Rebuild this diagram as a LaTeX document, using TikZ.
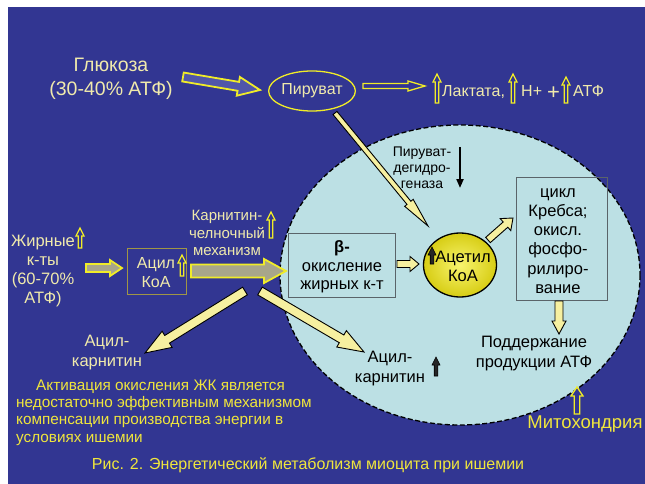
\documentclass[tikz,border=0pt]{standalone}
\usepackage{fontspec}
\setmainfont{Liberation Sans}
\usetikzlibrary{calc,arrows.meta,shapes.geometric}
\definecolor{bgblue}{RGB}{50,54,146}
\definecolor{mito}{RGB}{188,224,228}
\definecolor{cream}{RGB}{240,234,172}
\definecolor{yel}{RGB}{240,236,40}
\definecolor{paleyel}{RGB}{246,240,160}
\definecolor{greyfill}{RGB}{168,166,138}
\definecolor{txtyel}{RGB}{240,230,60}
\definecolor{boxgrey}{RGB}{90,100,105}
\definecolor{olivebox}{RGB}{160,150,70}
\definecolor{accin}{RGB}{248,244,110}
\definecolor{accout}{RGB}{215,205,20}
\definecolor{hollowfill}{RGB}{80,86,170}
\newcommand\myfs[2]{\fontsize{#1}{#2}\selectfont}
\newcommand\blkarrow[6]{%
  \coordinate (hb) at ($(#2)!#5!(#1)$);
  \draw[#6] ($(#1)!#3!90:(#2)$) -- ($(hb)!#3!90:(#2)$) -- ($(hb)!#4!90:(#2)$) -- (#2)
     -- ($(hb)!#4!-90:(#2)$) -- ($(hb)!#3!-90:(#2)$) -- ($(#1)!#3!-90:(#2)$) -- cycle;}
\newcommand\smallup[4]{%
  \coordinate (ua) at (#1,#2);
  \coordinate (ub) at (#1,#3);
  \blkarrow{ua}{ub}{1.8pt}{4pt}{8pt}{#4}}
\begin{document}
\begin{tikzpicture}[x=1pt,y=-1pt,
  hollowy/.style={draw=yel, line width=1.3pt, fill=bgblue, line join=miter},
  palearr/.style={draw=black, line width=0.9pt, fill=paleyel, line join=miter},
  greyarr/.style={draw=yel, line width=1.8pt, fill=greyfill, line join=miter},
  blackup/.style={draw=black, line width=0.6pt, fill=black!85},
  ctext/.style={text=cream, inner sep=0, align=center},
  btext/.style={text=black, inner sep=0, align=center}]
\useasboundingbox (0,0) rectangle (645,484);
\fill[white] (0,0) rectangle (645,484);
\fill[bgblue] (8,7) rectangle (645,484);
% mitochondrion
\draw[fill=mito, line width=1.3pt, dash pattern=on 5pt off 2.5pt] (460,275) ellipse [x radius=180, y radius=150];

% boxes
\node[draw=boxgrey, line width=0.8pt, minimum width=107pt, minimum height=64pt, inner sep=0] (betabox) at (341.5,265) {};
\node[draw=boxgrey, line width=0.8pt, minimum width=91pt, minimum height=123pt, inner sep=0] (krebsbox) at (561.5,238.5) {};
\node[draw=olivebox, line width=0.8pt, minimum width=59pt, minimum height=46pt, inner sep=0] (acilbox) at (156.5,271) {};
\node[ellipse, draw=black, line width=1.3pt, inner color=accin, outer color=accout, minimum width=73pt, minimum height=64pt, inner sep=0] (acetyl) at (460,265) {};
\node[ellipse, draw=yel, line width=1.3pt, minimum width=86pt, minimum height=40pt, inner sep=0, text=cream, font=\myfs{16}{19}] (piruvat) at (312,91) {Пируват};

% texts
\node[ctext, font=\myfs{19.5}{24}] (gluc) at (111,79) {Глюкоза\\(30-40\% АТФ)};
\node[text=cream, inner sep=0, anchor=base west, font=\myfs{16}{19}] (lakt) at (442,97) {Лактата,};
\node[text=cream, inner sep=0, anchor=base west, font=\myfs{16}{19}] (hplus) at (521,97) {Н+};
\node[text=cream, inner sep=0, anchor=base west, font=\myfs{22}{24}] (plus) at (547,100) {+};
\node[text=cream, inner sep=0, anchor=base west, font=\myfs{16}{19}] (atf) at (573,97) {АТФ};
\node[btext, font=\myfs{14}{16}] (pdh) at (422,168) {Пируват-\\дегидро-\\геназа};
\node[btext, font=\myfs{16.5}{19}] (actext) at (463,266) {Ацетил\\КоА};
\node[btext, font=\myfs{16.5}{18.5}] (betatext) at (342,267) {\textbf{β-}\\окисление\\жирных к-т};
\node[btext, font=\myfs{16.5}{19.3}] (krebstext) at (558,241) {цикл\\Кребса;\\окисл.\\фосфо-\\рилиро-\\вание};
\node[btext, font=\myfs{16.5}{20}] (podd) at (534,354) {Поддержание\\продукции АТФ};
\node[btext, font=\myfs{16.5}{20}] (akin) at (390,369) {Ацил-\\карнитин};
\node[text=txtyel, inner sep=0, font=\myfs{18.5}{20}] (mitolabel) at (585,424) {Митохондрия};
\node[ctext, font=\myfs{16.5}{18.7}] (fat) at (43,271) {Жирные\\к-ты\\(60-70\%\\АТФ)};
\node[ctext, font=\myfs{16}{19}] (acil) at (156,273) {Ацил\\КоА};
\node[ctext, font=\myfs{15}{17.5}] (karn) at (227,233) {Карнитин-\\челночный\\механизм};
\node[ctext, font=\myfs{16.5}{20}] (akout) at (107,353) {Ацил-\\карнитин};
\node[text=txtyel, inner sep=0, align=left, anchor=north west, font=\myfs{15.3}{17.3}] (note) at (16,379.5)
  {\hspace*{20pt}Активация окисления ЖК является\\недостаточно эффективным механизмом\\компенсации производства энергии в\\условиях ишемии};
\node[text=txtyel, inner sep=0, font=\myfs{16}{19}] (caption) at (308,465) {Рис. 2. Энергетический метаболизм миоцита при ишемии};

% connectors
\coordinate (g1) at (183,77); \coordinate (g2) at (260,90);
\blkarrow{g1}{g2}{4.5pt}{9.5pt}{22pt}{draw=yel, line width=1.8pt, fill=hollowfill, line join=miter}
\coordinate (p1) at (363,86); \coordinate (p2) at (425,86);
\blkarrow{p1}{p2}{2.5pt}{5pt}{17pt}{hollowy}
\coordinate (pa1) at (335,113); \coordinate (pa2) at (428,226);
\blkarrow{pa1}{pa2}{2.5pt}{5.5pt}{30pt}{palearr}
\draw[line width=2pt, -{Triangle[length=9pt,width=7pt]}] (460,147) -- (460,188);
\coordinate (b1) at (397,264); \coordinate (b2) at (419,264);
\blkarrow{b1}{b2}{3.5pt}{7.5pt}{9pt}{palearr}
\coordinate (k1) at (488,240); \coordinate (k2) at (513,218);
\blkarrow{k1}{k2}{3.5pt}{8pt}{10pt}{palearr}
\coordinate (d1) at (559,301); \coordinate (d2) at (559,334);
\blkarrow{d1}{d2}{4pt}{7pt}{13pt}{palearr}
\coordinate (f1) at (86,268); \coordinate (f2) at (122,268);
\blkarrow{f1}{f2}{4pt}{8pt}{12pt}{greyarr}
\coordinate (c1) at (191,271); \coordinate (c2) at (286,271);
\blkarrow{c1}{c2}{6.5pt}{12pt}{22pt}{greyarr}
\coordinate (v1) at (245,291); \coordinate (v2) at (145,353);
\blkarrow{v1}{v2}{4.5pt}{9.5pt}{26pt}{palearr}
\coordinate (w1) at (260,291); \coordinate (w2) at (364,352);
\blkarrow{w1}{w2}{4.5pt}{9.5pt}{26pt}{palearr}

% small up arrows
\smallup{437}{103}{74}{hollowy}
\smallup{513}{103}{74}{hollowy}
\smallup{566}{103}{77}{hollowy}
\smallup{80}{248}{228}{hollowy}
\smallup{182}{276}{255}{hollowy}
\smallup{271}{238}{212}{hollowy}
\coordinate (m1) at (577,414); \coordinate (m2) at (577,387);
\blkarrow{m1}{m2}{2.8pt}{6pt}{9pt}{hollowy}
\smallup{432}{264}{247}{blackup}
\smallup{436}{376}{357}{blackup}
\end{tikzpicture}
\end{document}
